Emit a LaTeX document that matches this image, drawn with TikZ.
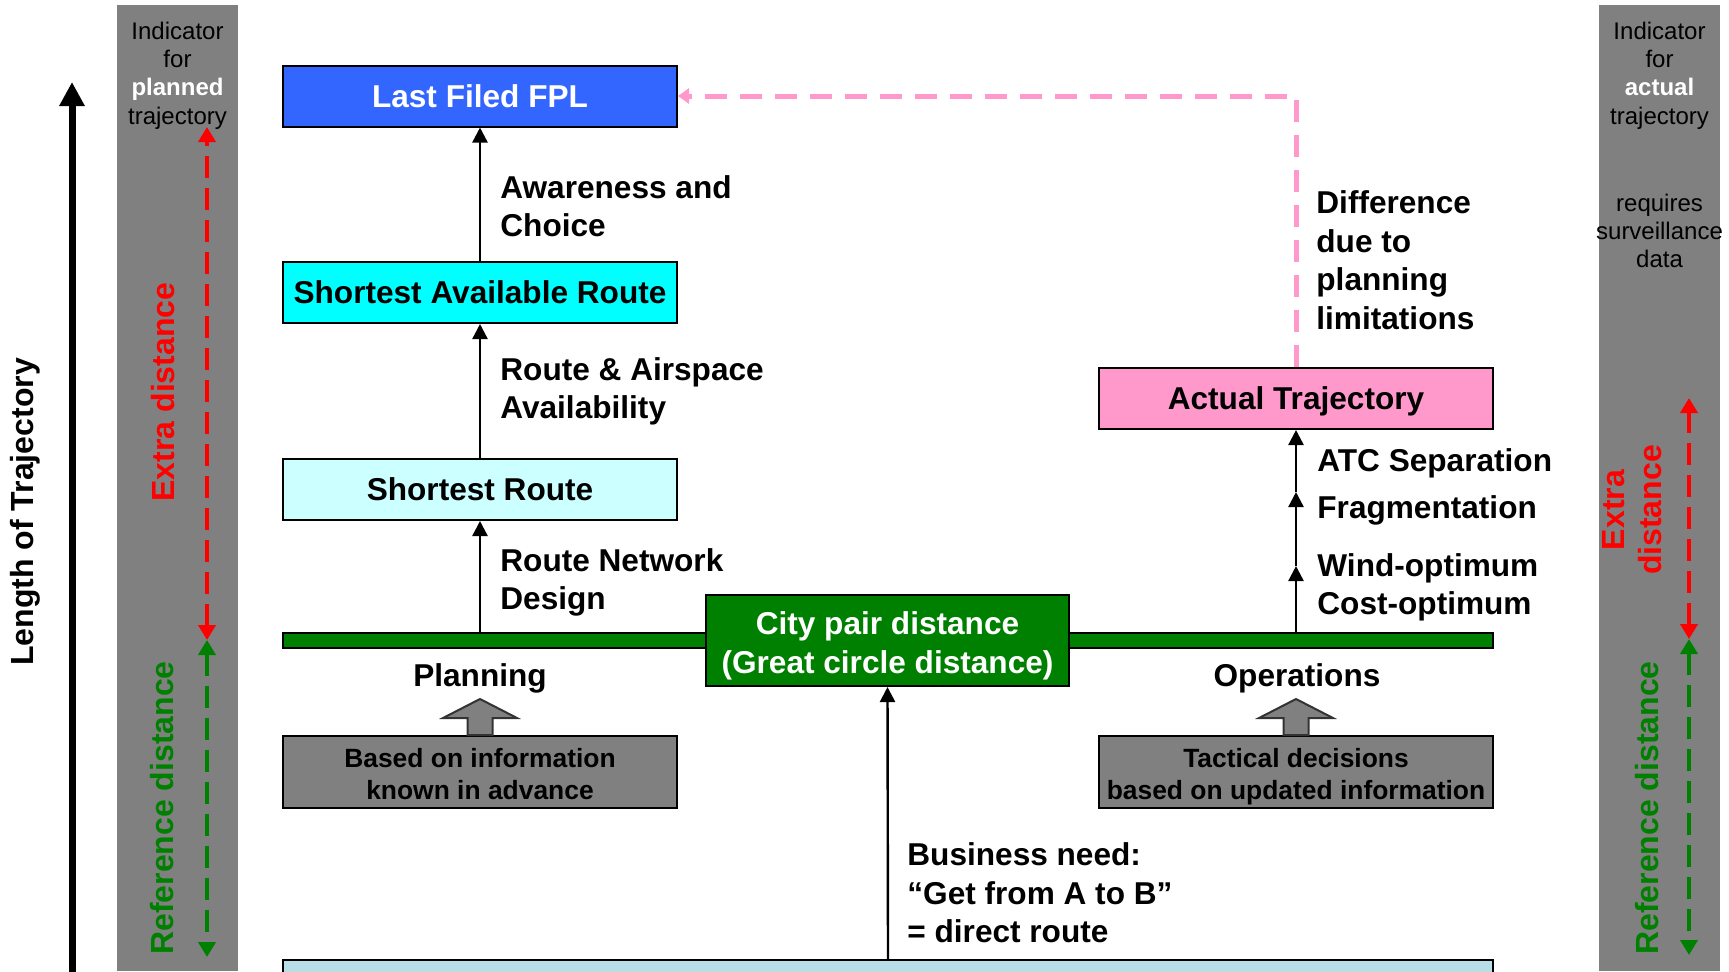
\documentclass[tikz,border=0pt]{standalone}
\usepackage{fontspec}
\setmainfont{Liberation Sans}
\usetikzlibrary{arrows.meta,positioning}

\definecolor{bandgray}{HTML}{808080}
\definecolor{fplblue}{HTML}{3366FF}
\definecolor{sarcyan}{HTML}{00FFFF}
\definecolor{srcyan}{HTML}{CCFFFF}
\definecolor{citygreen}{HTML}{008000}
\definecolor{actpink}{HTML}{FF99CC}
\definecolor{needblue}{RGB}{183,222,230}

\begin{document}
\begin{tikzpicture}[x=0.5pt, y=-0.5pt,
    box/.style={draw, line width=1pt, minimum width=197pt, minimum height=30.5pt, inner sep=0pt, font=\fontsize{15.8}{19.5}\selectfont\bfseries},
    oneline/.style={text height=11.4pt, text depth=0pt},
    infobox/.style={draw, line width=1pt, fill=bandgray, minimum width=197pt, minimum height=36pt, inner sep=0pt, align=center, font=\fontsize{13.2}{16}\selectfont\bfseries},
    lbl/.style={anchor=west, align=left, inner sep=0pt, font=\fontsize{15.8}{19.3}\selectfont\bfseries},
    bandtxt/.style={align=center, inner sep=0pt, font=\fontsize{12}{14.2}\selectfont},
    sidetxt/.style={rotate=90, align=center, inner sep=0pt, font=\fontsize{16}{18.5}\selectfont\bfseries},
    flow/.style={line width=1.2pt, -{Triangle[width=7.5pt,length=7.5pt]}},
    dist/.style={line width=2pt, dash pattern=on 11pt off 5pt, {Triangle[width=8.5pt,length=7.5pt]}-{Triangle[width=8.5pt,length=7.5pt]}},
    pinkline/.style={draw=actpink, line width=2.5pt, dash pattern=on 11pt off 6.5pt, -{Triangle[width=7.5pt,length=5.5pt]}},
    blockarrow/.style={draw=black!80, line width=1pt, fill=bandgray}]
    \useasboundingbox (0,0) rectangle (1729,971);

    % Indicator bands
    \fill[bandgray] (117,5) rectangle (238,971);
    \fill[bandgray] (1599,5) rectangle (1720,971);
    \node[bandtxt] (pind) at (177.5,75.5) {Indicator\\for\\{\bfseries\color{white}planned}\\trajectory};
    \node[bandtxt] (aind) at (1659.5,75.5) {Indicator\\for\\{\bfseries\color{white}actual}\\trajectory};
    \node[bandtxt] (surv) at (1659.5,231) {requires\\surveillance\\data};

    % Side labels
    \node[sidetxt] (len) at (25,512) {Length of Trajectory};
    \node[sidetxt, text=red] (lextra) at (163,392) {Extra distance};
    \node[sidetxt, text=citygreen] (lref) at (162,808) {Reference distance};
    \node[sidetxt, text=red] (rextra) at (1632,510) {Extra\\distance};
    \node[sidetxt, text=citygreen] (rref) at (1647,808) {Reference distance};

    % Length axis and distance markers
    \coordinate (lenbot) at (72,980);
    \coordinate (lentop) at (72,82);
    \draw[line width=3.5pt, -{Triangle[width=12pt,length=12pt]}] (lenbot) -- (lentop);
    \coordinate (pltop) at (207,127);
    \coordinate (plmid) at (207,640);
    \coordinate (plbot) at (207,957);
    \coordinate (altop) at (1689,398);
    \coordinate (almid) at (1689,639);
    \coordinate (albot) at (1689,955);
    \draw[dist, red] (plmid) -- (pltop);
    \draw[dist, citygreen] (plmid) -- (plbot);
    \draw[dist, red] (almid) -- (altop);
    \draw[dist, citygreen] (almid) -- (albot);

    % Route nodes
    \node[box, oneline, fill=fplblue, text=white] (fpl) at (480,96) {Last Filed FPL};
    \node[box, oneline, fill=sarcyan] (sar) at (480,292.5) {Shortest Available Route};
    \node[box, oneline, fill=srcyan] (sr) at (480,489.5) {Shortest Route};
    \node[box, oneline, fill=actpink] (act) at (1296,398.5) {Actual Trajectory};

    % Great circle line
    \node[draw, line width=1pt, fill=citygreen, minimum width=605pt, minimum height=7.5pt, inner sep=0pt] (bar) at (888,640.5) {};
    \node[box, fill=citygreen, text=white, align=center, minimum width=181.5pt, minimum height=45.5pt] (city) at (887.5,640.5) {\rule{0pt}{16.5pt}City pair distance\\(Great circle distance)};
    \node[draw, line width=1pt, fill=needblue, minimum width=605pt, minimum height=16pt, inner sep=0pt, anchor=north] (need) at (888,959) {};

    % Planning and operations
    \node[lbl, oneline, anchor=center] (plan) at (480,675) {Planning};
    \node[lbl, oneline, anchor=center] (ops) at (1297,675) {Operations};
    \node[infobox] (pinfo) at (480,772) {\rule{0pt}{11.8pt}Based on information\\known in advance};
    \node[infobox] (oinfo) at (1296,772) {\rule{0pt}{14pt}Tactical decisions\\based on updated information};
    \foreach \b in {pinfo,oinfo}
        \draw[blockarrow] (\b.north) ++(-12.5,0) -- ++(0,-17) -- ++(-24.5,0) -- ++(37,-19) -- ++(37,19) -- ++(-24.5,0) -- ++(0,17) -- cycle;

    % Edges
    \draw[flow] (sr |- bar.north) -- (sr.south);
    \draw[flow] (sr.north) -- (sar.south);
    \draw[flow] (sar.north) -- (fpl.south);
    \draw[flow] (need.north) -- (city.south);
    \coordinate (windtip) at (1296,566);
    \coordinate (fragtip) at (1296,492);
    \draw[flow] (act |- bar.north) -- (windtip);
    \draw[flow] (windtip) -- (fragtip);
    \draw[flow] (fragtip) -- (act.south);
    \draw[pinkline] (act.north) |- (fpl.east);

    % Edge labels
    \node[lbl] (aware) at (500,206) {Awareness and\\Choice};
    \node[lbl] (avail) at (500,391.5) {Route \& Airspace\\Availability};
    \node[lbl] (design) at (500,582.5) {Route Network\\Design};
    \node[lbl] (diff) at (1316,260) {Difference\\due to\\planning\\limitations};
    \node[lbl, oneline] (atc) at (1317,460) {ATC Separation};
    \node[lbl, oneline] (frag) at (1317,507) {Fragmentation};
    \node[lbl] (wind) at (1317,587.5) {Wind-optimum\\Cost-optimum};
    \node[lbl] (biz) at (907,893) {Business need:\\“Get from A to B”\\= direct route};
\end{tikzpicture}
\end{document}
